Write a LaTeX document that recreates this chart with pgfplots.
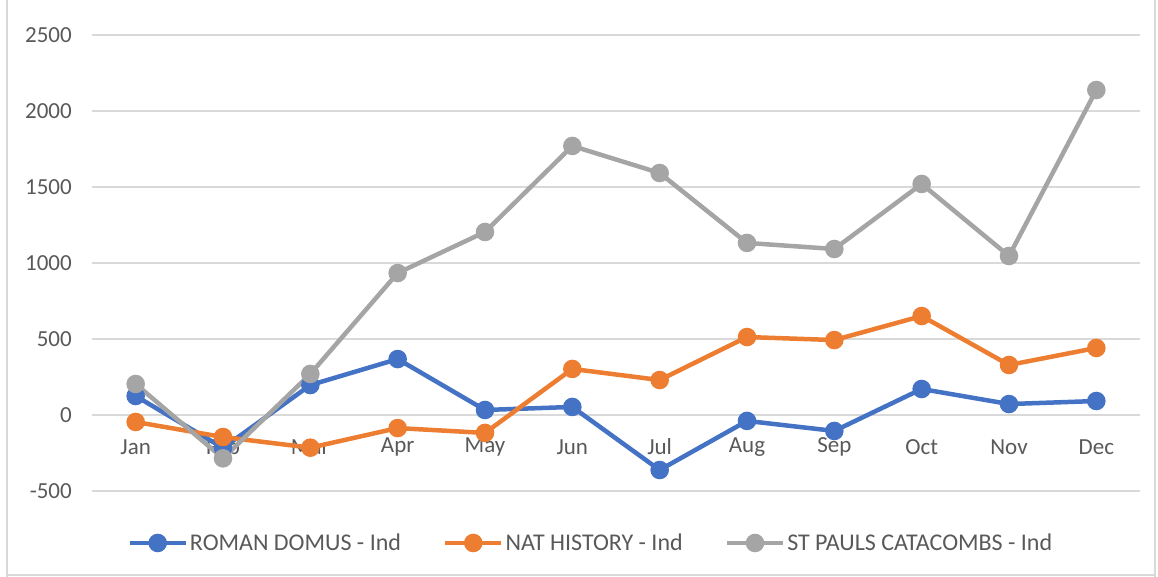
\documentclass[border=0pt]{standalone}
\usepackage{pgfplots}
\pgfplotsset{compat=1.18}
\usepackage{fontspec}
\setmainfont{Carlito}
\definecolor{cblue}{HTML}{4472C4}
\definecolor{corange}{HTML}{ED7D31}
\definecolor{cgray}{HTML}{A5A5A5}
\definecolor{gridc}{HTML}{D9D9D9}
\definecolor{txt}{HTML}{595959}
\begin{document}
\begin{tikzpicture}
\useasboundingbox (0,0) rectangle (1158pt,577pt);
\draw[gridc, line width=1.5pt] (7pt,0) -- (7pt,577pt);
\draw[gridc, line width=1.5pt] (1155pt,0) -- (1155pt,577pt);
\draw[gridc, line width=1.5pt] (7pt,2pt) -- (1155pt,2pt);
\begin{axis}[
  at={(92pt,86pt)}, anchor=south west,
  scale only axis, width=1048pt, height=456pt,
  xmin=-0.5, xmax=11.5, ymin=-500, ymax=2500,
  xtick={0,...,11},
  xticklabels={Jan,Feb,Mar,Apr,May,Jun,Jul,Aug,Sep,Oct,Nov,Dec},
  ytick={-500,0,...,2500},
  xmajorgrids=false, ymajorgrids=true,
  y grid style={color=gridc, line width=1.2pt},
  axis line style={draw=none},
  major tick length=0pt,
  tick label style={font=\fontsize{23}{27}\selectfont, text=txt},
  xticklabel style={anchor=center, yshift=44pt},
  yticklabel style={anchor=east, inner sep=0pt, xshift=-20pt},
  /pgf/number format/assume math mode=true,
  /pgf/number format/set thousands separator={},
  every axis plot/.append style={line width=4.5pt, mark=*, mark size=7pt, mark options={solid}},
  legend columns=3,
  legend style={at={(0.476,-0.114)}, anchor=center, draw=none, fill=none,
    font=\fontsize{24}{28}\selectfont, text=txt,
    /tikz/every even column/.append style={column sep=40pt},
    inner sep=0pt},
  legend image code/.code={\draw[mark repeat=2,mark phase=2] plot coordinates {(0pt,0pt)(28pt,0pt)(56pt,0pt)};},
]
\addplot[cblue] coordinates {(0,125) (1,-217) (2,197) (3,368) (4,33) (5,53) (6,-362) (7,-39) (8,-105) (9,171) (10,72) (11,92)};
\addlegendentry{ROMAN DOMUS - Ind}
\addplot[corange] coordinates {(0,-46) (1,-145) (2,-215) (3,-86) (4,-118) (5,303) (6,230) (7,513) (8,493) (9,651) (10,329) (11,441)};
\addlegendentry{NAT HISTORY - Ind}
\addplot[cgray] coordinates {(0,204) (1,-285) (2,270) (3,934) (4,1204) (5,1770) (6,1592) (7,1132) (8,1092) (9,1520) (10,1046) (11,2138)};
\addlegendentry{ST PAULS CATACOMBS - Ind}
\end{axis}
\end{tikzpicture}
\end{document}
